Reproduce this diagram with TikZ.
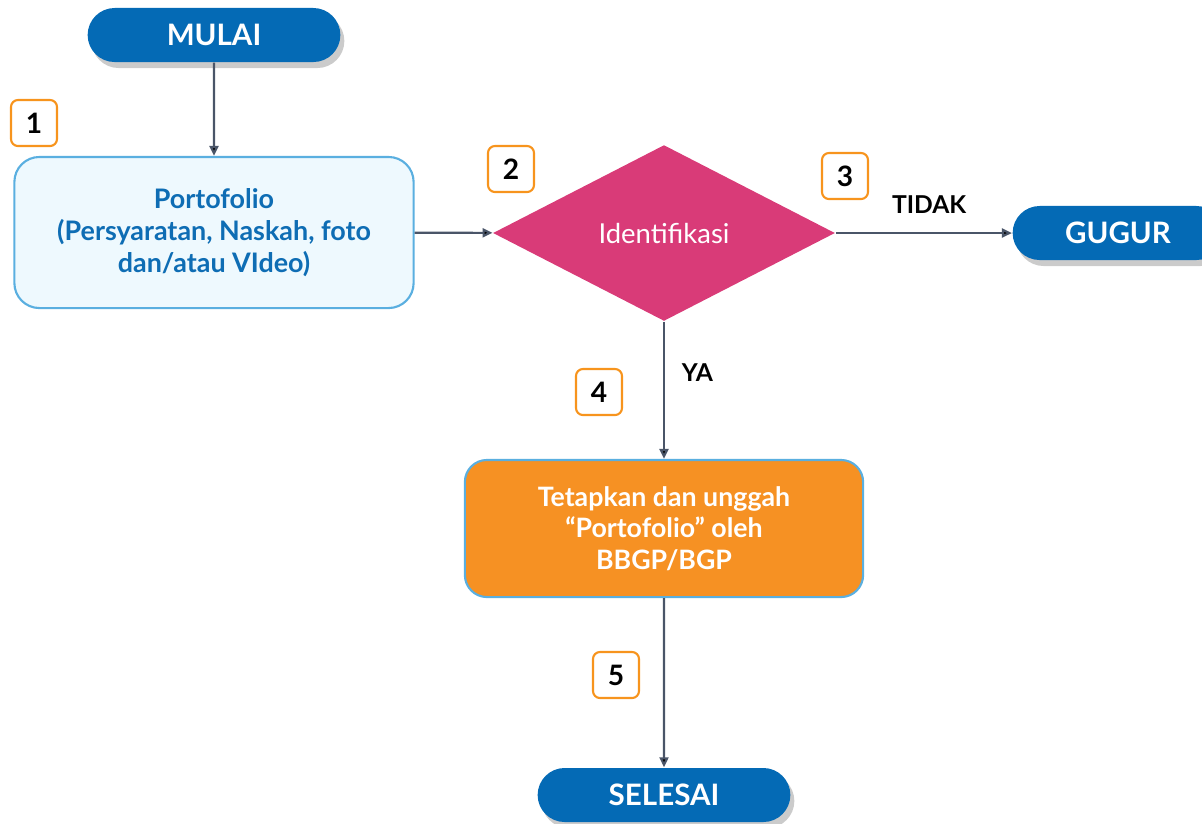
\documentclass[tikz,border=0pt]{standalone}
\usepackage{fontspec}
\setmainfont{Lato}
\usetikzlibrary{shapes.geometric,shapes.misc,arrows.meta,shadows}
\definecolor{pillblue}{RGB}{4,106,181}
\definecolor{portofill}{RGB}{238,249,254}
\definecolor{portoline}{RGB}{90,175,224}
\definecolor{portotext}{RGB}{14,109,180}
\definecolor{identpink}{RGB}{217,59,120}
\definecolor{tetaporange}{RGB}{246,145,35}
\definecolor{numorange}{RGB}{247,148,29}
\definecolor{arrowgray}{RGB}{74,85,104}
\begin{document}
\begin{tikzpicture}[x=0.01cm, y=-0.01cm,
    flow/.style={draw=arrowgray, line width=0.6pt, -{Triangle[width=0.09cm,length=0.1cm]}},
    pill/.style={rounded rectangle, fill=pillblue, text=white, font=\fontsize{8.4}{10}\selectfont\bfseries,
        minimum height=0.54cm, drop shadow={shadow xshift=0.04cm, shadow yshift=-0.06cm, fill=black!45, opacity=0.45}},
    numbox/.style={draw=numorange, line width=0.6pt, fill=white, rounded corners=0.07cm,
        minimum size=0.46cm, inner sep=0pt, font=\fontsize{8}{10}\selectfont\bfseries},
    note/.style={font=\fontsize{7}{8}\selectfont\bfseries}]
        \useasboundingbox (0,0) rectangle (1202,823);

          % start, steps and ends
          \node[pill, minimum width=2.76cm] (mulai) at (214,35) {MULAI};
          \node[draw=portoline, line width=0.6pt, fill=portofill, rounded corners=0.25cm,
                minimum width=3.99cm, minimum height=1.51cm, text=portotext, align=center,
                font=\fontsize{7.65}{9.2}\selectfont\bfseries] (porto) at (214,232.5)
                {Portofolio\\(Persyaratan, Naskah, foto\\dan/atau VIdeo)};
          \node[diamond, fill=identpink, inner sep=0pt, minimum width=3.42cm, minimum height=1.76cm,
                text=white, font=\fontsize{7.8}{9}\selectfont] (ident) at (664,233) {Identifikasi};
          \node[pill, minimum width=2.34cm] (gugur) at (1118,233) {GUGUR};
          \node[draw=portoline, line width=0.6pt, fill=tetaporange, rounded corners=0.22cm,
                minimum width=3.98cm, minimum height=1.37cm, text=white, align=center,
                font=\fontsize{7.6}{9}\selectfont\bfseries] (tetap) at (664,528.5)
                {Tetapkan dan unggah\\“Portofolio” oleh\\BBGP/BGP};
          \node[pill, minimum width=2.76cm] (selesai) at (664,795) {SELESAI};

          % step numbers
          \node[numbox] (n1) at (34,123) {1};
          \node[numbox] (n2) at (511,169) {2};
          \node[numbox] (n3) at (845,176) {3};
          \node[numbox] (n4) at (599,392) {4};
          \node[numbox] (n5) at (616,675) {5};

          \path[flow]
            (mulai) edge (porto)
            (porto) edge (ident)
            (ident) edge node[note, above=0.07cm, pos=0.53] {TIDAK} (gugur)
                    edge node[note, right=0.05cm, pos=0.37] {YA} (tetap)
            (tetap) edge (selesai);

\end{tikzpicture}
\end{document}
